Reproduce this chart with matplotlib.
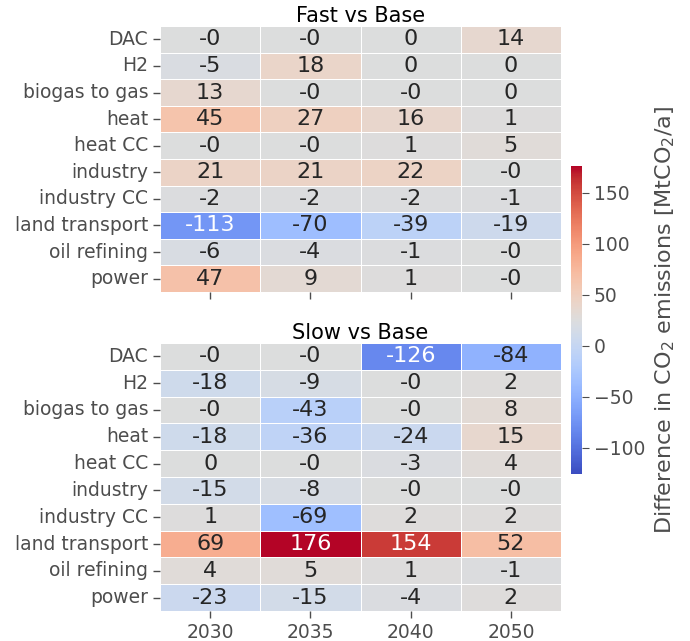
import matplotlib
matplotlib.use("Agg")
import matplotlib.pyplot as plt
import matplotlib.colors as mcolors
import matplotlib.cm as cm
import numpy as np
import seaborn as sns

sectors = ["DAC", "H2", "biogas to gas", "heat", "heat CC", "industry",
           "industry CC", "land transport", "oil refining", "power"]
years = ["2030", "2035", "2040", "2050"]

fast = np.array([
    [-0.0, -0.0, 0, 14],
    [-5, 18, 0, 0],
    [13, -0.0, -0.0, 0],
    [45, 27, 16, 1],
    [-0.0, -0.0, 1, 5],
    [21, 21, 22, -0.0],
    [-2, -2, -2, -1],
    [-113, -70, -39, -19],
    [-6, -4, -1, -0.0],
    [47, 9, 1, -0.0],
])

slow = np.array([
    [-0.0, -0.0, -126, -84],
    [-18, -9, -0.0, 2],
    [-0.0, -43, -0.0, 8],
    [-18, -36, -24, 15],
    [0, -0.0, -3, 4],
    [-15, -8, -0.0, -0.0],
    [1, -69, 2, 2],
    [69, 176, 154, 52],
    [4, 5, 1, -1],
    [-23, -15, -4, 2],
])

vmin = min(fast.min(), slow.min())
vmax = max(fast.max(), slow.max())
tick_col = "#4d4d4d"

fig = plt.figure(figsize=(6.9, 6.41), dpi=100)
ax1 = fig.add_axes([0.2319, 0.5445, 0.5812, 0.4149])
ax2 = fig.add_axes([0.2319, 0.0468, 0.5812, 0.4181])
cax = fig.add_axes([0.8275, 0.2605, 0.016, 0.4805])

for ax, data, title in [(ax1, fast, "Fast vs Base"), (ax2, slow, "Slow vs Base")]:
    sns.heatmap(data, ax=ax, cmap="coolwarm", center=0, vmin=vmin, vmax=vmax,
                annot=True, fmt=".0f", annot_kws={"fontsize": 16},
                linewidths=0.7, linecolor="white", cbar=False,
                xticklabels=years, yticklabels=sectors)
    ax.set_title(title, fontsize=15, pad=2)
    ax.tick_params(axis="both", length=5, width=1, color=tick_col,
                   labelcolor=tick_col, labelsize=13.5)
    ax.set_yticklabels(sectors, rotation=0)

ax1.set_xticklabels([])
ax2.set_xticklabels(years, rotation=0)

sm = cm.ScalarMappable(norm=mcolors.Normalize(vmin=vmin, vmax=vmax), cmap="coolwarm")
cb = fig.colorbar(sm, cax=cax)
cb.outline.set_visible(False)
cb.set_ticks([-100, -50, 0, 50, 100, 150])
cb.ax.tick_params(length=5, color=tick_col, labelcolor=tick_col, labelsize=13.5)
cb.set_label("Difference in CO$_2$ emissions [MtCO$_2$/a]", fontsize=16,
             color=tick_col, labelpad=6)

fig.savefig("out.png", dpi=100)
